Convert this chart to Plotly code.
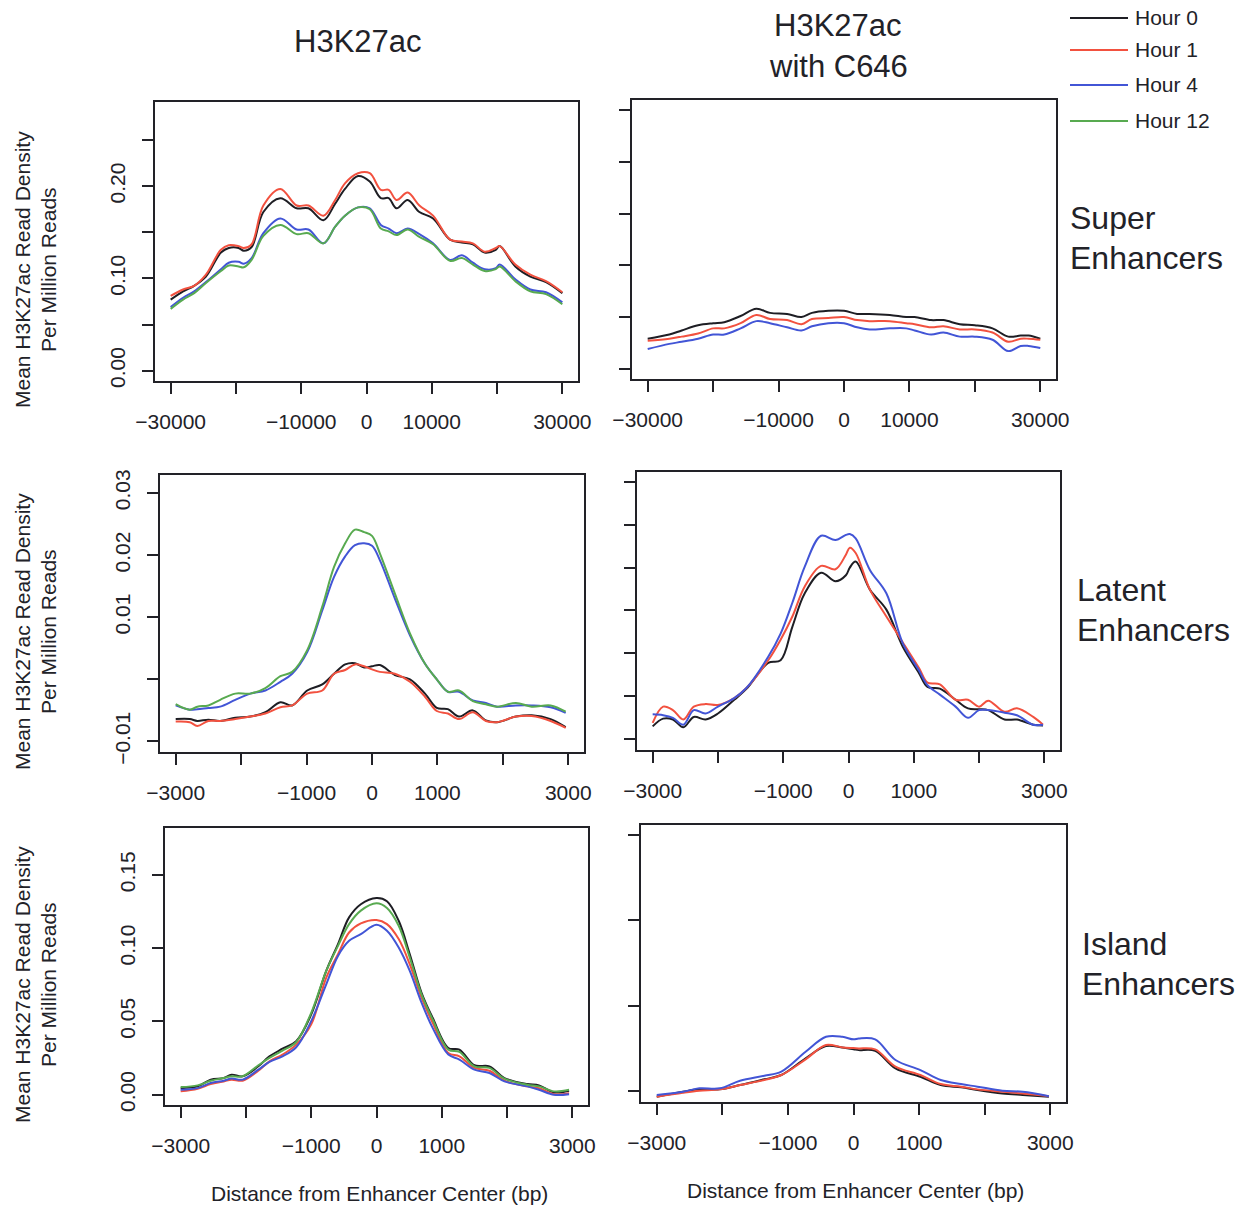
import plotly.graph_objects as go

# ---------------------------------------------------------------- data
HOURS = ["Hour 0", "Hour 1", "Hour 4", "Hour 12"]
HOUR_COLORS = {"Hour 0": "#1e1e24", "Hour 1": "#f2513f",
               "Hour 4": "#4255d6", "Hour 12": "#58aa50"}

# Super enhancers, H3K27ac (distance in bp)
SUPER_X = [-30000, -28100, -26400, -24600, -22300, -21100, -19600, -18800, -17600,
           -15800, -13200, -10700, -8900, -6600, -4800, -3300, -1300, 500, 2200,
           3400, 4600, 6300, 8100, 10200, 12800, 14600, 16300, 18100, 19800, 20400,
           22800, 25100, 27500, 30000]
SUPER_H0 = [0.077, 0.086, 0.092, 0.102, 0.128, 0.133, 0.133, 0.130, 0.134, 0.172, 0.187,
            0.176, 0.176, 0.163, 0.181, 0.197, 0.211, 0.205, 0.187, 0.187, 0.176, 0.185,
            0.172, 0.165, 0.142, 0.139, 0.137, 0.128, 0.131, 0.135, 0.113, 0.102, 0.096, 0.084]
SUPER_H1 = [0.081, 0.088, 0.092, 0.104, 0.131, 0.136, 0.135, 0.133, 0.137, 0.179, 0.197,
            0.179, 0.179, 0.168, 0.185, 0.203, 0.214, 0.214, 0.196, 0.196, 0.185, 0.193,
            0.179, 0.168, 0.142, 0.140, 0.138, 0.129, 0.133, 0.135, 0.115, 0.104, 0.097, 0.085]
SUPER_H4 = [0.069, 0.079, 0.086, 0.096, 0.110, 0.117, 0.118, 0.116, 0.122, 0.149, 0.165,
            0.153, 0.153, 0.138, 0.156, 0.168, 0.177, 0.176, 0.158, 0.154, 0.149, 0.154,
            0.148, 0.138, 0.120, 0.125, 0.117, 0.110, 0.111, 0.115, 0.099, 0.088, 0.085, 0.074]
SUPER_H12 = [0.067, 0.077, 0.084, 0.095, 0.108, 0.114, 0.113, 0.112, 0.120, 0.146, 0.158,
             0.148, 0.149, 0.138, 0.156, 0.168, 0.177, 0.175, 0.154, 0.151, 0.147, 0.153,
             0.145, 0.137, 0.119, 0.122, 0.115, 0.108, 0.110, 0.113, 0.097, 0.086, 0.083, 0.072]

# Super enhancers, H3K27ac with C646
SUPER_C646_X = [-30000, -26700, -24800, -22300, -20000, -18300, -15800, -13400, -11300,
                -8700, -6500, -4900, -2400, 0, 2000, 3900, 7000, 9500, 10800, 13300,
                15200, 17700, 20000, 22700, 25100, 27000, 28200, 30000]
SUPER_C646_H0 = [0.029, 0.033, 0.037, 0.042, 0.044, 0.045, 0.051, 0.058, 0.054, 0.053,
                 0.050, 0.054, 0.056, 0.056, 0.053, 0.053, 0.052, 0.050, 0.050, 0.047,
                 0.047, 0.043, 0.042, 0.039, 0.031, 0.032, 0.032, 0.029]
SUPER_C646_H1 = [0.027, 0.029, 0.031, 0.034, 0.039, 0.039, 0.044, 0.052, 0.048, 0.047,
                 0.043, 0.048, 0.049, 0.050, 0.047, 0.046, 0.046, 0.044, 0.043, 0.040,
                 0.041, 0.038, 0.038, 0.035, 0.026, 0.029, 0.029, 0.028]
SUPER_C646_H4 = [0.019, 0.024, 0.026, 0.029, 0.033, 0.033, 0.039, 0.046, 0.044, 0.040,
                 0.037, 0.041, 0.044, 0.044, 0.040, 0.038, 0.039, 0.039, 0.037, 0.033,
                 0.035, 0.031, 0.031, 0.028, 0.017, 0.022, 0.022, 0.020]

# Latent enhancers, H3K27ac
LATENT_X = [-3000, -2785, -2670, -2500, -2320, -2090, -1860, -1630, -1400, -1220, -990,
            -760, -580, -410, -260, -120, 0, 120, 350, 580, 810, 990, 1160, 1330, 1540,
            1740, 1910, 2200, 2440, 2730, 2960]
LATENT_H0 = [-0.0064, -0.0064, -0.0067, -0.0065, -0.0067, -0.0062, -0.0060, -0.0053,
             -0.0037, -0.0042, -0.0018, -0.0008, 0.0009, 0.0024, 0.0026, 0.0019, 0.0021,
             0.0023, 0.0007, 0.0000, -0.0023, -0.0046, -0.0048, -0.0060, -0.0050, -0.0066,
             -0.0069, -0.0060, -0.0058, -0.0064, -0.0077]
LATENT_H1 = [-0.0068, -0.0069, -0.0075, -0.0067, -0.0067, -0.0064, -0.0060, -0.0055,
             -0.0045, -0.0042, -0.0023, -0.0018, 0.0009, 0.0015, 0.0024, 0.0021, 0.0016,
             0.0012, 0.0009, -0.0004, -0.0028, -0.0051, -0.0055, -0.0064, -0.0053, -0.0067,
             -0.0069, -0.0060, -0.0059, -0.0067, -0.0078]
LATENT_H4 = [-0.0042, -0.0049, -0.0048, -0.0046, -0.0044, -0.0033, -0.0023, -0.0018,
             -0.0004, 0.0009, 0.0044, 0.0111, 0.0165, 0.0198, 0.0216, 0.0219, 0.0215,
             0.0192, 0.0130, 0.0071, 0.0025, 0.0000, -0.0020, -0.0020, -0.0034, -0.0038,
             -0.0044, -0.0042, -0.0042, -0.0045, -0.0054]
LATENT_H12 = [-0.0040, -0.0049, -0.0044, -0.0042, -0.0033, -0.0023, -0.0023, -0.0014,
              0.0005, 0.0012, 0.0047, 0.0117, 0.0181, 0.0219, 0.0241, 0.0237, 0.0231,
              0.0203, 0.0138, 0.0074, 0.0025, 0.0000, -0.0020, -0.0018, -0.0035, -0.0040,
              -0.0044, -0.0038, -0.0044, -0.0042, -0.0052]

# Latent enhancers, H3K27ac with C646
LATENT_C646_X = [-3000, -2840, -2690, -2530, -2370, -2190, -2000, -1750, -1560, -1230,
                 -1040, -860, -670, -420, -200, -40, 20, 110, 330, 580, 830, 1080, 1210,
                 1400, 1640, 1830, 2000, 2140, 2390, 2580, 2830, 2980]
LATENT_C646_H0 = [-0.0085, -0.0076, -0.0077, -0.0086, -0.0074, -0.0077, -0.0070, -0.0054,
                  -0.0041, -0.0011, -0.0008, 0.0031, 0.0070, 0.0094, 0.0084, 0.0091, 0.0100,
                  0.0107, 0.0074, 0.0051, 0.0008, -0.0023, -0.0039, -0.0041, -0.0054,
                  -0.0064, -0.0065, -0.0066, -0.0077, -0.0077, -0.0083, -0.0084]
LATENT_C646_H1 = [-0.0081, -0.0062, -0.0066, -0.0077, -0.0062, -0.0059, -0.0060, -0.0052,
                  -0.0040, -0.0008, 0.0016, 0.0043, 0.0078, 0.0102, 0.0098, 0.0115, 0.0123,
                  0.0117, 0.0074, 0.0043, 0.0013, -0.0017, -0.0034, -0.0036, -0.0054,
                  -0.0054, -0.0062, -0.0055, -0.0068, -0.0064, -0.0074, -0.0083]
LATENT_C646_H4 = [-0.0071, -0.0072, -0.0075, -0.0083, -0.0066, -0.0070, -0.0062, -0.0052,
                  -0.0040, -0.0004, 0.0023, 0.0059, 0.0101, 0.0137, 0.0132, 0.0138, 0.0139,
                  0.0134, 0.0097, 0.0070, 0.0012, -0.0020, -0.0037, -0.0048, -0.0062,
                  -0.0075, -0.0066, -0.0066, -0.0069, -0.0072, -0.0083, -0.0083]

# Island enhancers, H3K27ac
ISLAND_X = [-3000, -2740, -2540, -2340, -2220, -2050, -1810, -1640, -1440, -1230, -1000,
            -770, -590, -420, -240, 0, 160, 340, 510, 690, 860, 1100, 1270, 1500, 1730,
            1960, 2310, 2490, 2720, 2950]
ISLAND_H0 = [0.0045, 0.0057, 0.0103, 0.0114, 0.0137, 0.0126, 0.0194, 0.0262, 0.0314,
             0.0365, 0.0548, 0.0845, 0.1027, 0.1210, 0.1300, 0.1342, 0.1320, 0.1187,
             0.0959, 0.0696, 0.0525, 0.0319, 0.0308, 0.0201, 0.0194, 0.0114, 0.0073,
             0.0064, 0.0016, 0.0027]
ISLAND_H1 = [0.0023, 0.0041, 0.0073, 0.0091, 0.0103, 0.0096, 0.0164, 0.0228, 0.0274,
             0.0342, 0.0480, 0.0799, 0.0959, 0.1107, 0.1169, 0.1192, 0.1164, 0.1062,
             0.0890, 0.0662, 0.0491, 0.0285, 0.0262, 0.0183, 0.0164, 0.0096, 0.0057,
             0.0045, 0.0004, 0.0011]
ISLAND_H4 = [0.0034, 0.0045, 0.0080, 0.0096, 0.0110, 0.0103, 0.0171, 0.0224, 0.0262,
             0.0324, 0.0502, 0.0753, 0.0947, 0.1050, 0.1096, 0.1160, 0.1119, 0.1005,
             0.0845, 0.0628, 0.0456, 0.0274, 0.0240, 0.0171, 0.0148, 0.0091, 0.0057,
             0.0034, 0.0000, 0.0004]
ISLAND_H12 = [0.0052, 0.0064, 0.0096, 0.0114, 0.0126, 0.0126, 0.0201, 0.0251, 0.0301,
              0.0360, 0.0559, 0.0845, 0.1016, 0.1164, 0.1256, 0.1306, 0.1274, 0.1153,
              0.0936, 0.0685, 0.0514, 0.0308, 0.0292, 0.0194, 0.0183, 0.0110, 0.0068,
              0.0057, 0.0023, 0.0034]

# Island enhancers, H3K27ac with C646
ISLAND_C646_X = [-3000, -2600, -2350, -2040, -1730, -1360, -1100, -730, -420, -170, 0,
                 80, 330, 640, 1020, 1330, 1640, 1890, 2270, 2580, 2980]
ISLAND_C646_H0 = [-0.0033, -0.0004, 0.0010, 0.0010, 0.0035, 0.0069, 0.0094, 0.0192,
                  0.0264, 0.0256, 0.0245, 0.0240, 0.0236, 0.0133, 0.0084, 0.0035, 0.0022,
                  0.0006, -0.0014, -0.0023, -0.0033]
ISLAND_C646_H1 = [-0.0033, -0.0010, 0.0002, 0.0010, 0.0035, 0.0065, 0.0094, 0.0186,
                  0.0270, 0.0256, 0.0252, 0.0250, 0.0244, 0.0143, 0.0094, 0.0041, 0.0026,
                  0.0010, -0.0004, -0.0014, -0.0030]
ISLAND_C646_H4 = [-0.0023, -0.0004, 0.0016, 0.0016, 0.0061, 0.0090, 0.0114, 0.0230,
                  0.0318, 0.0318, 0.0303, 0.0308, 0.0303, 0.0182, 0.0123, 0.0065, 0.0041,
                  0.0026, 0.0002, -0.0004, -0.0030]

# tick values / labels
LONG_X_TICKS = [-30000, -20000, -10000, 0, 10000, 20000, 30000]
LONG_X_LABELS = ["\u221230000", "", "\u221210000", "0", "10000", "", "30000"]
SHORT_X_TICKS = [-3000, -2000, -1000, 0, 1000, 2000, 3000]
SHORT_X_LABELS = ["\u22123000", "", "\u22121000", "0", "1000", "", "3000"]

SUPER_Y_TICKS = [0.0, 0.05, 0.10, 0.15, 0.20, 0.25]
SUPER_Y_LABELS = ["0.00", "", "0.10", "", "0.20", ""]
LATENT_Y_TICKS = [-0.01, 0.0, 0.01, 0.02, 0.03]
LATENT_Y_LABELS = ["\u22120.01", "", "0.01", "0.02", "0.03"]
ISLAND_Y_TICKS = [0.0, 0.05, 0.10, 0.15]
ISLAND_Y_LABELS = ["0.00", "0.05", "0.10", "0.15"]
SUPER_C646_Y_TICKS = [0.0, 0.05, 0.10, 0.15, 0.20, 0.25]
LATENT_C646_Y_TICKS = [-0.01, -0.005, 0.0, 0.005, 0.01, 0.015, 0.02]
ISLAND_C646_Y_TICKS = [0.0, 0.05, 0.10, 0.15]

# ---------------------------------------------------------------- layout helpers
W, H = 1244, 1205
FONT = "Liberation Sans, Arial, Helvetica, sans-serif"
INK = "#222228"


def px_x(v):
    return v / W


def px_y(v):
    return 1 - v / H


panels = [
    dict(box=(155, 102, 578, 381), xr=[-32400, 32400], yr=[-0.0112, 0.2912],
         xt=LONG_X_TICKS, xl=LONG_X_LABELS, yt=SUPER_Y_TICKS, yl=SUPER_Y_LABELS,
         x=SUPER_X, series=[SUPER_H0, SUPER_H1, SUPER_H4, SUPER_H12]),
    dict(box=(632, 100, 1056, 379), xr=[-32400, 32400], yr=[-0.01, 0.26],
         xt=LONG_X_TICKS, xl=LONG_X_LABELS, yt=SUPER_C646_Y_TICKS,
         yl=[""] * len(SUPER_C646_Y_TICKS),
         x=SUPER_C646_X, series=[SUPER_C646_H0, SUPER_C646_H1, SUPER_C646_H4]),
    dict(box=(160, 475, 584, 752), xr=[-3240, 3240], yr=[-0.0117, 0.0329],
         xt=SHORT_X_TICKS, xl=SHORT_X_LABELS, yt=LATENT_Y_TICKS, yl=LATENT_Y_LABELS,
         x=LATENT_X, series=[LATENT_H0, LATENT_H1, LATENT_H4, LATENT_H12]),
    dict(box=(637, 472, 1060, 750), xr=[-3240, 3240], yr=[-0.01125, 0.02113],
         xt=SHORT_X_TICKS, xl=SHORT_X_LABELS, yt=LATENT_C646_Y_TICKS,
         yl=[""] * len(LATENT_C646_Y_TICKS),
         x=LATENT_C646_X, series=[LATENT_C646_H0, LATENT_C646_H1, LATENT_C646_H4]),
    dict(box=(165, 828, 588, 1105), xr=[-3240, 3240], yr=[-0.007, 0.182],
         xt=SHORT_X_TICKS, xl=SHORT_X_LABELS, yt=ISLAND_Y_TICKS, yl=ISLAND_Y_LABELS,
         x=ISLAND_X, series=[ISLAND_H0, ISLAND_H1, ISLAND_H4, ISLAND_H12]),
    dict(box=(641, 825, 1066, 1102), xr=[-3240, 3240], yr=[-0.0064, 0.1559],
         xt=SHORT_X_TICKS, xl=SHORT_X_LABELS, yt=ISLAND_C646_Y_TICKS,
         yl=[""] * len(ISLAND_C646_Y_TICKS),
         x=ISLAND_C646_X, series=[ISLAND_C646_H0, ISLAND_C646_H1, ISLAND_C646_H4]),
]

fig = go.Figure()
layout = dict(
    template="none",
    width=W, height=H, margin=dict(l=0, r=0, t=0, b=0, autoexpand=False),
    paper_bgcolor="white", plot_bgcolor="white", showlegend=False,
    font=dict(family=FONT, size=21, color=INK),
)

for i, p in enumerate(panels, start=1):
    l, t, r, b = p["box"]
    xa = "xaxis" if i == 1 else f"xaxis{i}"
    ya = "yaxis" if i == 1 else f"yaxis{i}"
    xref = "x" if i == 1 else f"x{i}"
    yref = "y" if i == 1 else f"y{i}"
    common = dict(showgrid=False, zeroline=False, showline=True, mirror=True,
                  automargin=False, linecolor=INK, linewidth=2, ticks="outside",
                  ticklen=11, tickwidth=2, tickcolor=INK, tickmode="array",
                  tickfont=dict(family=FONT, size=21, color=INK), fixedrange=True)
    layout[xa] = dict(common, domain=[px_x(l), px_x(r)], range=p["xr"],
                      anchor=yref, tickvals=p["xt"], ticktext=p["xl"],
                      ticklabelstandoff=10)
    layout[ya] = dict(common, domain=[px_y(b), px_y(t)], range=p["yr"],
                      anchor=xref, tickvals=p["yt"], ticktext=p["yl"],
                      tickangle=-90, ticklabelstandoff=9)
    for hour, ys in zip(HOURS, p["series"]):
        fig.add_trace(go.Scatter(
            x=p["x"], y=ys, mode="lines", name=hour, xaxis=xref, yaxis=yref,
            line=dict(color=HOUR_COLORS[hour], width=2, shape="spline", smoothing=1.0),
            hoverinfo="skip", showlegend=False,
        ))

# ---------------------------------------------------------------- text
annotations = []


def label(text, x, y, size, xanchor="center", angle=0):
    annotations.append(dict(text=text, x=px_x(x), y=px_y(y), xref="paper", yref="paper",
                            showarrow=False, xanchor=xanchor, yanchor="middle",
                            textangle=angle, font=dict(family=FONT, size=size, color=INK)))


label("H3K27ac", 358, 42, 31)
label("H3K27ac", 838, 25, 31)
label("with C646", 838, 66, 31)

label("Super", 1068, 218, 32, "left")
label("Enhancers", 1068, 258, 32, "left")
label("Latent", 1075, 590, 32, "left")
label("Enhancers", 1075, 630, 32, "left")
label("Island", 1080, 944, 32, "left")
label("Enhancers", 1080, 984, 32, "left")

for yc in (270, 632, 985):
    label("Mean H3K27ac Read Density", 22, yc, 21, angle=-90)
    label("Per Million Reads", 48, yc, 21, angle=-90)

label("Distance from Enhancer Center (bp)", 379, 1193, 21)
label("Distance from Enhancer Center (bp)", 855, 1190, 21)

# legend keys
shapes = []
for hour, yk in zip(HOURS, (18, 50, 85, 121)):
    shapes.append(dict(type="line", xref="paper", yref="paper",
                       x0=px_x(1070), x1=px_x(1128), y0=px_y(yk), y1=px_y(yk),
                       line=dict(color=HOUR_COLORS[hour], width=2)))
    label(hour, 1133, yk, 21, "left")

layout["annotations"] = annotations
layout["shapes"] = shapes
fig.update_layout(**layout)
fig.write_html("out.html")
